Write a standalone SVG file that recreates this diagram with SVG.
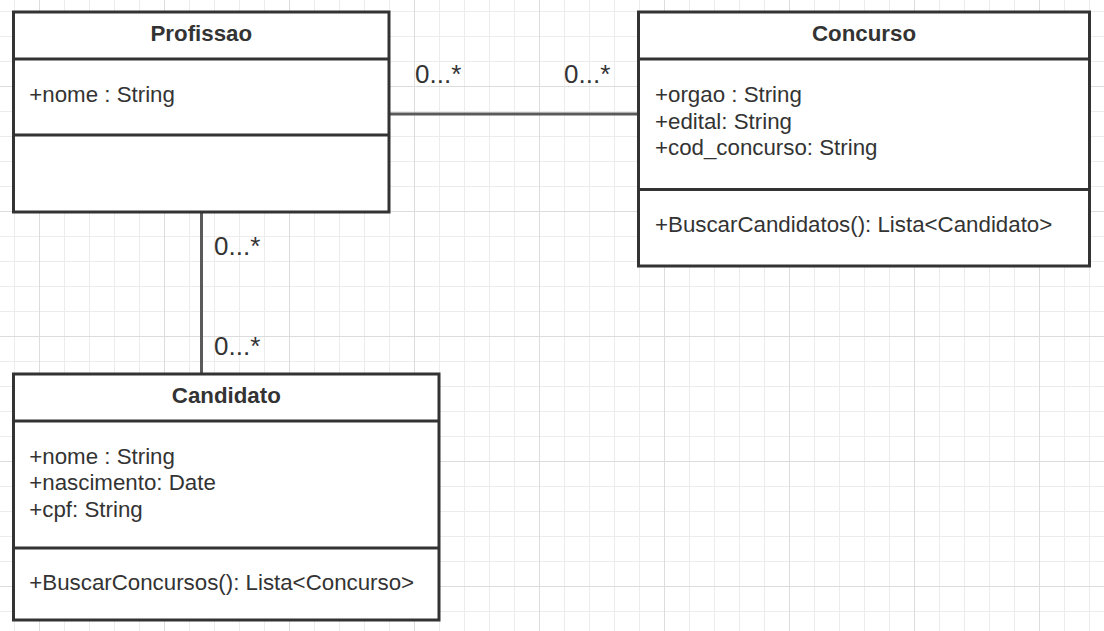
<svg xmlns="http://www.w3.org/2000/svg" width="1104" height="631" viewBox="0 0 1104 631">
<defs>
<pattern id="minor" x="14" y="11" width="25" height="25" patternUnits="userSpaceOnUse">
<path d="M0.5 0 V25 M0 0.5 H25" stroke="#ececec" stroke-width="1" fill="none"/>
</pattern>
<pattern id="major" x="39" y="86" width="125" height="125" patternUnits="userSpaceOnUse">
<path d="M0.5 0 V125 M0 0.5 H125" stroke="#dcdcdc" stroke-width="1" fill="none"/>
</pattern>
</defs>
<style>
.box{fill:#ffffff;stroke:#333333;stroke-width:3}
.div{stroke:#333333;stroke-width:3}
.title{font-family:"Liberation Sans",Arial,sans-serif;font-size:22.3px;font-weight:bold;fill:#333333;text-anchor:middle}
.txt{font-family:"Liberation Sans",Arial,sans-serif;font-size:22.3px;fill:#333333}
.mult{font-family:"Liberation Sans",Arial,sans-serif;font-size:26px;fill:#333333}
.conn{stroke:#5a5a5a;stroke-width:3;fill:none}
</style>
<rect width="1104" height="631" fill="#ffffff"/>
<rect width="1104" height="631" fill="url(#minor)"/>
<rect width="1104" height="631" fill="url(#major)"/>

<g id="connectors">
<line class="conn" x1="389" y1="114" x2="638" y2="114"/>
<line class="conn" x1="201.5" y1="212" x2="201.5" y2="374"/>
<text class="mult" x="415" y="83">0...*</text>
<text class="mult" x="564" y="83">0...*</text>
<text class="mult" x="214" y="255">0...*</text>
<text class="mult" x="214" y="355">0...*</text>
</g>

<g id="Profissao">
<rect class="box" x="13.5" y="12" width="375.5" height="200"/>
<line class="div" x1="13.5" y1="59" x2="389" y2="59"/>
<line class="div" x1="13.5" y1="135" x2="389" y2="135"/>
<text class="title" x="201.3" y="40.5">Profissao</text>
<text class="txt" x="29.3" y="102">+nome : String</text>
</g>

<g id="Concurso">
<rect class="box" x="638.5" y="12" width="451" height="254"/>
<line class="div" x1="638.5" y1="59" x2="1089.5" y2="59"/>
<line class="div" x1="638.5" y1="189.5" x2="1089.5" y2="189.5"/>
<text class="title" x="864" y="40.5">Concurso</text>
<text class="txt" x="655" y="102">+orgao : String</text>
<text class="txt" x="655" y="128.7">+edital: String</text>
<text class="txt" x="655" y="155.4">+cod_concurso: String</text>
<text class="txt" x="655" y="231.5">+BuscarCandidatos(): Lista&lt;Candidato&gt;</text>
</g>

<g id="Candidato">
<rect class="box" x="13.5" y="374" width="425.5" height="246"/>
<line class="div" x1="13.5" y1="421" x2="439" y2="421"/>
<line class="div" x1="13.5" y1="548" x2="439" y2="548"/>
<text class="title" x="226.3" y="402.5">Candidato</text>
<text class="txt" x="29.3" y="463.5">+nome : String</text>
<text class="txt" x="29.3" y="490.2">+nascimento: Date</text>
<text class="txt" x="29.3" y="516.9">+cpf: String</text>
<text class="txt" x="29.3" y="589.5">+BuscarConcursos(): Lista&lt;Concurso&gt;</text>
</g>
</svg>
